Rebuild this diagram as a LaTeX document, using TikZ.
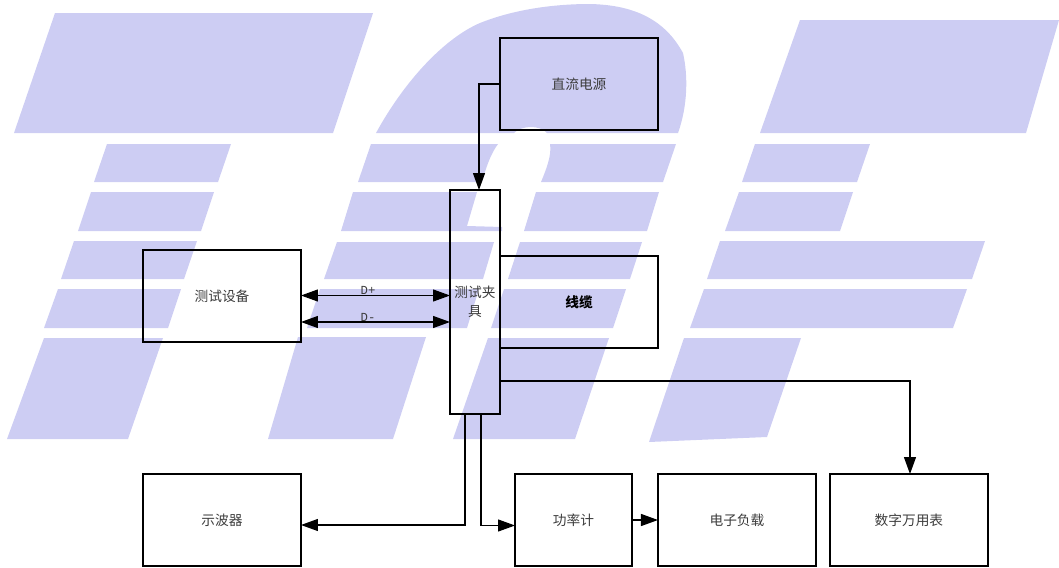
\documentclass[tikz,border=0pt]{standalone}
\usepackage{fontspec}
\usepackage{xcolor}
\usepackage{tikz}
\usetikzlibrary{arrows.meta,positioning,calc}
\setmainfont{Noto Sans CJK SC}
\newfontfamily\latinlabel{Liberation Mono}
\definecolor{mark}{RGB}{205,205,243}
\definecolor{ink}{RGB}{60,60,60}
\tikzset{
    markshape/.style={
        fill=mark,
        draw=none
    },
    flowbox/.style={
        draw,
        line width=0.7pt,
        align=center,
        text=ink,
        inner sep=0pt,
        outer sep=0pt,
        minimum width=3.16cm,
        minimum height=1.84cm,
        font=\fontsize{7.8pt}{11pt}\selectfont
    },
    arrow/.style={
        -{Triangle[length=3.4mm,width=2.4mm]},
        line width=0.7pt
    },
    bothways/.style={
        {Triangle[length=3.4mm,width=2.4mm]}-{Triangle[length=3.4mm,width=2.4mm]},
        line width=0.7pt
    },
    signal/.style={
        font=\latinlabel\fontsize{7pt}{8pt}\selectfont,
        text=ink,
        inner sep=0pt
    }
}
\begin{document}
\begin{tikzpicture}[x=0.02cm,y=-0.02cm,node distance=0.28cm and 0.52cm]
    \useasboundingbox (0,0) rectangle (1059,568);

    % background mark, left letter
    \fill[markshape] (55,13) -- (373,13) -- (333,133) -- (14,133) -- cycle;
    \fill[markshape] (107,144) -- (231,144) -- (218,182) -- (94,182) -- cycle;
    \fill[markshape] (91,192) -- (214,192) -- (201,231) -- (78,231) -- cycle;
    \fill[markshape] (74,241) -- (197,241) -- (184,279) -- (61,279) -- cycle;
    \fill[markshape] (58,289) -- (181,289) -- (168,328) -- (44,328) -- cycle;
    \fill[markshape] (44,338) -- (163,338) -- (128,439) -- (7,439) -- cycle;

    % background mark, middle letter
    \fill[markshape] (376,133) .. controls (405,80) and (445,38) .. (480,23)
        .. controls (515,9) and (555,4) .. (590,4)
        .. controls (635,5) and (665,20) .. (683,53)
        .. controls (688,75) and (688,105) .. (678,133)
        -- (547,133) .. controls (540,125) and (522,125) .. (514,133) -- cycle;
    \fill[markshape] (371,144) -- (498,144) .. controls (490,155) and (486,168) .. (482,182) -- (358,182) -- cycle;
    \fill[markshape] (550,144) -- (676,144) -- (663,182) -- (541,182) .. controls (546,170) and (552,155) .. (550,144) -- cycle;
    \fill[markshape] (353,192) -- (477,192) -- (467,226) -- (502,227) -- (502,231) -- (341,231) -- cycle;
    \fill[markshape] (536,192) -- (659,192) -- (647,231) -- (524,231) -- cycle;
    \fill[markshape] (337,242) -- (494,242) -- (483,279) -- (324,279) -- cycle;
    \fill[markshape] (520,242) -- (642,242) -- (630,279) -- (508,279) -- cycle;
    \fill[markshape] (320,289) -- (479,289) -- (467,328) -- (307,328) -- cycle;
    \fill[markshape] (504,289) -- (626,289) -- (613,328) -- (491,328) -- cycle;
    \fill[markshape] (298,337) -- (426,337) -- (393,439) -- (268,439) -- cycle;
    \fill[markshape] (488,338) -- (609,338) -- (575,439) -- (453,439) -- cycle;

    % background mark, right letter
    \fill[markshape] (800,20) -- (1059,20) -- (1026,133) -- (760,133) -- cycle;
    \fill[markshape] (755,144) -- (870,144) -- (857,182) -- (742,182) -- cycle;
    \fill[markshape] (739,192) -- (853,192) -- (840,231) -- (725,231) -- cycle;
    \fill[markshape] (720,241) -- (985,241) -- (972,279) -- (707,279) -- cycle;
    \fill[markshape] (704,289) -- (967,289) -- (953,328) -- (690,328) -- cycle;
    \fill[markshape] (684,338) -- (801,338) -- (767,437) -- (649,442) -- cycle;

    % boxes
    \node[flowbox, minimum width=1.0cm, minimum height=4.48cm] (fixture) at (475,302) {测试夹\\具};
    \node[flowbox] (power) at (579,84) {直流电源};
    \node[flowbox] (cable) at (579,302) {\textbf{\textcolor{black}{线缆}}};
    \node[flowbox] (tester) at (222,296) {测试设备};
    \node[flowbox] (scope) at (222,520) {示波器};
    \node[flowbox, minimum width=2.34cm] (meter) at (573.5,520) {功率计};
    \node[flowbox, right=of meter] (load) {电子负载};
    \node[flowbox, right=0.28cm of load] (multi) {数字万用表};

    % connectors
    \draw[arrow] (power.west) -| (fixture.north -| 479,0);
    \draw[bothways] (tester.east |- 0,295.5) -- (fixture.west |- 0,295.5) node[signal, pos=0.45, above=0pt] {D+};
    \draw[bothways] (tester.east |- 0,322) -- (fixture.west |- 0,322) node[signal, pos=0.45, above=0pt] {D-};
    \draw[arrow] (fixture.south -| 465,0) |- (scope.east |- 0,525);
    \draw[arrow] (fixture.south -| 481,0) |- (meter.west |- 0,525.5);
    \draw[arrow] (meter.east) -- (load.west);
    \draw[arrow] (fixture.east |- 0,381) -| (multi.north -| 910,0);
\end{tikzpicture}
\end{document}
